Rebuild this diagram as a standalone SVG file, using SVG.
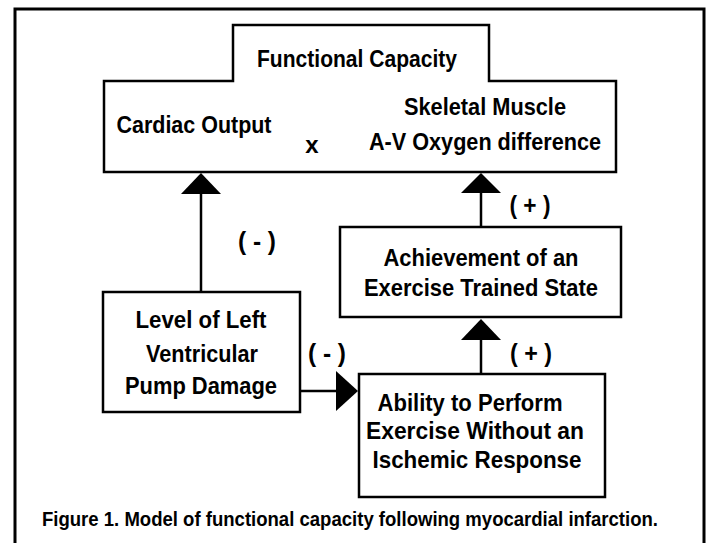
<svg xmlns="http://www.w3.org/2000/svg" width="710" height="543" viewBox="0 0 710 543">
<style>
.box{fill:#fff;stroke:#000;stroke-width:2.5}
.frame{fill:none;stroke:#000;stroke-width:3}
.t{font-family:"Liberation Sans",Arial,sans-serif;font-weight:bold;font-size:24px;fill:#000;text-anchor:middle}
.p{font-size:26px}
.cap{font-size:19.5px}
.ln{stroke:#000;stroke-width:2.5;fill:none}
.hd{fill:#000}
</style>
<rect width="710" height="543" fill="#fff"/>
<path class="frame" d="M15,543 V9 H704 V543"/>
<g id="functional-capacity">
<path class="box" d="M104,81 H233 V25 H489 V81 H616 V172 H104 Z"/>
<text class="t" x="357" y="67" textLength="200" lengthAdjust="spacingAndGlyphs">Functional Capacity</text>
<text class="t" x="194" y="133" textLength="155" lengthAdjust="spacingAndGlyphs">Cardiac Output</text>
<text class="t" x="312" y="153">x</text>
<text class="t" x="485" y="115" textLength="162" lengthAdjust="spacingAndGlyphs">Skeletal Muscle</text>
<text class="t" x="485" y="150" textLength="232" lengthAdjust="spacingAndGlyphs">A-V Oxygen difference</text>
</g>
<g id="trained-state">
<rect class="box" x="340" y="227" width="281" height="90"/>
<text class="t" x="481" y="266" textLength="195" lengthAdjust="spacingAndGlyphs">Achievement of an</text>
<text class="t" x="481" y="296" textLength="234" lengthAdjust="spacingAndGlyphs">Exercise Trained State</text>
</g>
<g id="pump-damage">
<rect class="box" x="103" y="292" width="197" height="120"/>
<text class="t" x="201" y="328" textLength="131" lengthAdjust="spacingAndGlyphs">Level of Left</text>
<text class="t" x="202" y="362" textLength="112" lengthAdjust="spacingAndGlyphs">Ventricular</text>
<text class="t" x="201" y="394" textLength="152" lengthAdjust="spacingAndGlyphs">Pump Damage</text>
</g>
<g id="ability">
<rect class="box" x="359" y="374" width="246" height="123"/>
<text class="t" x="470" y="411" textLength="185" lengthAdjust="spacingAndGlyphs">Ability to Perform</text>
<text class="t" x="475" y="439" textLength="218" lengthAdjust="spacingAndGlyphs">Exercise Without an</text>
<text class="t" x="477" y="468" textLength="209" lengthAdjust="spacingAndGlyphs">Ischemic Response</text>
</g>
<g id="connectors">
<line class="ln" x1="201" y1="193" x2="201" y2="292"/>
<polygon class="hd" points="201,173 221,194 181,194"/>
<line class="ln" x1="481" y1="192" x2="481" y2="227"/>
<polygon class="hd" points="481,173 501,193 461,193"/>
<line class="ln" x1="481" y1="339" x2="481" y2="374"/>
<polygon class="hd" points="481,319 501,340 461,340"/>
<line class="ln" x1="300" y1="391" x2="337" y2="391"/>
<polygon class="hd" points="358,391 336,371 336,411"/>
<text class="t p" x="257" y="250" textLength="38" lengthAdjust="spacingAndGlyphs">( - )</text>
<text class="t p" x="530" y="214" textLength="41" lengthAdjust="spacingAndGlyphs">( + )</text>
<text class="t p" x="327" y="362" textLength="38" lengthAdjust="spacingAndGlyphs">( - )</text>
<text class="t p" x="531" y="362" textLength="42" lengthAdjust="spacingAndGlyphs">( + )</text>
</g>
<text class="t cap" x="350" y="526" textLength="616" lengthAdjust="spacingAndGlyphs">Figure 1. Model of functional capacity following myocardial infarction.</text>
</svg>
